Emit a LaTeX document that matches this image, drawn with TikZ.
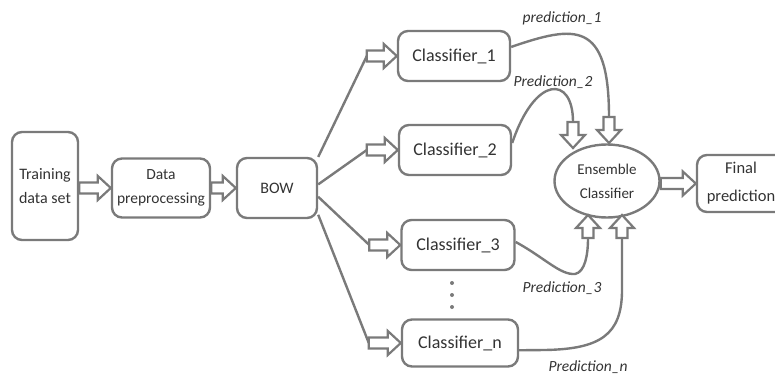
\documentclass[tikz,border=0pt]{standalone}
\usepackage{fontspec}
\setmainfont{Carlito}
\usetikzlibrary{calc,shapes.geometric}
\definecolor{linegray}{HTML}{7A7A7A}
\definecolor{textgray}{HTML}{333333}
% hollow block arrow from #1 (tail) to #2 (tip)
\def\haShaft{5.5pt}
\def\haWing{12pt}
\def\haHead{13pt}
\newcommand\hollowarrow[2]{%
  \draw[hollow] ($(#1)!\haShaft!90:(#2)$)
    -- ($(#2)!\haHead!(#1)!\haShaft!-90:(#1)$)
    -- ($(#2)!\haHead!(#1)!\haWing!-90:(#1)$)
    -- (#2)
    -- ($(#2)!\haHead!(#1)!\haWing!90:(#1)$)
    -- ($(#2)!\haHead!(#1)!\haShaft!90:(#1)$)
    -- ($(#1)!\haShaft!-90:(#2)$) -- cycle;}
\tikzset{
  stagebox/.style={draw=linegray, line width=2.4pt, rounded corners=10pt, inner sep=0pt,
    align=center, text=textgray, font=\fontsize{16}{24}\selectfont},
  clf/.style={stagebox, minimum width=112pt, minimum height=50pt, font=\fontsize{18}{22}\selectfont},
  link/.style={draw=linegray, line width=2.4pt},
  hollow/.style={draw=linegray, line width=2.2pt, fill=white, line join=miter},
  predlabel/.style={text=textgray, font=\fontsize{15.5}{18}\selectfont\itshape, inner sep=0pt},
  dotmark/.style={circle, fill=linegray, inner sep=0pt, minimum size=4pt}
}
\begin{document}
\begin{tikzpicture}[x=1pt,y=-1pt]
\useasboundingbox (0,0) rectangle (775,377);

% pipeline stages
\node[stagebox, minimum width=66pt, minimum height=108pt] (train) at (45,186) {Training\\data set};
\node[stagebox, minimum width=98pt, minimum height=59pt, font=\fontsize{15.5}{24}\selectfont] (prep) at (161,188) {Data\\preprocessing};
\node[stagebox, minimum width=80pt, minimum height=60pt] (bow) at (277,188) {BOW};

% base classifiers
\node[clf] (c1) at (454,56) {Classifier\_1};
\node[clf] (c2) at (455,150) {Classifier\_2};
\node[clf, minimum width=113pt] (c3) at (458,245) {Classifier\_3};
\node[clf, minimum width=116pt, minimum height=47pt] (cn) at (460,343) {Classifier\_n};
\node[dotmark] (d1) at (452,283) {};
\node[dotmark] (d2) at (452,295) {};
\node[dotmark] (d3) at (452,307) {};

% ensemble and output
\node[draw=linegray, line width=2.4pt, ellipse, minimum width=105pt, minimum height=73pt,
  inner sep=0pt, align=center, text=textgray, font=\fontsize{15}{24}\selectfont] (ens) at (607,181) {Ensemble\\Classifier};
\node[stagebox, minimum width=88pt, minimum height=57pt, font=\fontsize{16.5}{28}\selectfont] (final) at (741,183.5) {Final\\prediction};

% tails of the block arrows
\coordinate (trainout) at (train.east |- prep.west);
\coordinate (s1) at ($(c1.west)+(-30,0)$);
\coordinate (s2) at ($(c2.west)+(-31,0)$);
\coordinate (s3) at ($(c3.west)+(-31,0)$);
\coordinate (sn) at ($(cn.west)+(-32,0)$);
\coordinate (p1s) at (609,117);
\coordinate (p1t) at (609,143);
\coordinate (p2s) at (573,122);
\coordinate (p2t) at (573,148);
\coordinate (p3s) at (588,238);
\coordinate (p3t) at (588,215);
\coordinate (pns) at (622,238);
\coordinate (pnt) at (622,215);
\coordinate (ensout) at (ens.east |- final.west);

% fan-out from BOW
\draw[link] (bow.37) -- (s1);
\draw[link] (bow.5) -- (s2);
\draw[link] (bow.-12) -- (s3);
\draw[link] (bow.-33) -- (sn);

% predictions into the ensemble
\draw[link] (c1.9) .. controls (575,25) and (609,20) .. (p1s);
\draw[link] (c2.7) .. controls (535,75) and (573,75) .. (p2s);
\draw[link] (c3.3) .. controls (545,258) and (560,275) .. (575,274)
  .. controls (585,272) and (588,255) .. (p3s);
\draw[link] (cn.-7) -- (545,350) .. controls (600,349) and (622,335) .. (622,290) -- (pns);

% block arrows
\hollowarrow{trainout}{prep.west}
\hollowarrow{prep.east}{bow.west}
\hollowarrow{s1}{c1.west}
\hollowarrow{s2}{c2.west}
\hollowarrow{s3}{c3.west}
\hollowarrow{sn}{cn.west}
\hollowarrow{p1s}{p1t}
\hollowarrow{p2s}{p2t}
\hollowarrow{p3s}{p3t}
\hollowarrow{pns}{pnt}
\hollowarrow{ensout}{final.west}

% prediction labels
\node[predlabel] (l1) at (562,18) {prediction\_1};
\node[predlabel] (l2) at (553,82) {Prediction\_2};
\node[predlabel] (l3) at (562,288) {Prediction\_3};
\node[predlabel] (ln) at (588,367) {Prediction\_n};
\end{tikzpicture}
\end{document}
